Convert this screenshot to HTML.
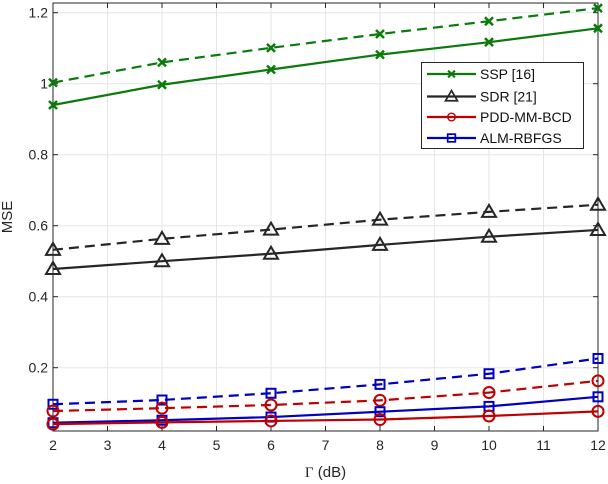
<!DOCTYPE html>
<html><head><meta charset="utf-8"><style>
html,body{margin:0;padding:0;background:#fff;}
svg{display:block;font-family:"Liberation Sans",Arial,sans-serif;}
</style></head><body>
<svg id="chart" width="608" height="484" viewBox="0 0 608 484" xmlns="http://www.w3.org/2000/svg"></svg>
<script>
const xValues=[2,4,6,8,10,12];
const xTicks=[2,3,4,5,6,7,8,9,10,11,12];
const yTicks=[0.2,0.4,0.6,0.8,1,1.2];
const yTickLabels=["0.2","0.4","0.6","0.8","1","1.2"];
const sspSolid=[0.94,0.997,1.04,1.082,1.117,1.156];
const sspDashed=[1.003,1.06,1.101,1.14,1.176,1.213];
const sdrSolid=[0.478,0.50,0.521,0.546,0.569,0.588];
const sdrDashed=[0.532,0.563,0.589,0.617,0.639,0.659];
const pddSolid=[0.041,0.046,0.050,0.054,0.064,0.077];
const pddDashed=[0.078,0.086,0.095,0.108,0.130,0.163];
const almSolid=[0.045,0.052,0.061,0.076,0.091,0.118];
const almDashed=[0.097,0.109,0.128,0.153,0.183,0.226];

const L=53,R=598,T=3,B=431;
const X=v=>L+(v-2)/10*(R-L);
const Y=v=>367.7-(v-0.2)*355;
const svg=document.getElementById('chart');
const NS='http://www.w3.org/2000/svg';
function mk(tag,attrs,parent){const e=document.createElementNS(NS,tag);for(const k in attrs)e.setAttribute(k,attrs[k]);(parent||svg).appendChild(e);return e;}

mk('rect',{x:L,y:T,width:R-L,height:B-T,fill:'#fff'});
const grid=mk('g',{});


xTicks.forEach(t=>{mk('line',{x1:X(t),x2:X(t),y1:T,y2:B,stroke:'#e6e6e6','stroke-width':1},grid);});
yTicks.forEach(t=>{mk('line',{x1:L,x2:R,y1:Y(t),y2:Y(t),stroke:'#e6e6e6','stroke-width':1},grid);});

const box=mk('rect',{x:L,y:T,width:R-L,height:B-T,fill:'none',stroke:'#262626','stroke-width':1});


const xt=mk('g',{});


xTicks.forEach(t=>{
  mk('line',{x1:X(t),x2:X(t),y1:B,y2:B-5,stroke:'#262626'},xt);
  mk('line',{x1:X(t),x2:X(t),y1:T,y2:T+5,stroke:'#262626'},xt);
  const tx=mk('text',{x:X(t),y:B+19,'text-anchor':'middle','font-size':14,fill:'#262626'},xt);tx.textContent=t;
});
const yt=mk('g',{});


yTicks.forEach((t,i)=>{
  mk('line',{x1:L,x2:L+5,y1:Y(t),y2:Y(t),stroke:'#262626'},yt);
  mk('line',{x1:R,x2:R-5,y1:Y(t),y2:Y(t),stroke:'#262626'},yt);
  const tx=mk('text',{x:L-5,y:Y(t)+5,'text-anchor':'end','font-size':14,fill:'#262626'},yt);tx.textContent=yTickLabels[i];
});
const xl=mk('text',{x:(L+R)/2,y:477,'text-anchor':'middle','font-size':15,fill:'#262626'});


xl.innerHTML='<tspan font-family="Liberation Serif,serif">Γ</tspan> (dB)';
const yl=mk('text',{x:0,y:0,'text-anchor':'middle','font-size':15,fill:'#262626',transform:`translate(12,${(T+B)/2}) rotate(-90)`});


yl.textContent='MSE';

function marker(g,type,x,y,c){
  if(type==='x'){mk('path',{d:`M${x-4},${y-4}L${x+4},${y+4}M${x-4},${y+4}L${x+4},${y-4}`,stroke:c,'stroke-width':2.5,fill:'none'},g);}
  else if(type==='tri'){mk('path',{d:`M${x},${y-7}L${x+7},${y+5}L${x-7},${y+5}Z`,stroke:c,'stroke-width':2,fill:'none'},g);}
  else if(type==='o'){mk('circle',{cx:x,cy:y,r:5.5,stroke:c,'stroke-width':2,fill:'none'},g);}
  else {mk('rect',{x:x-4.5,y:y-4.5,width:9,height:9,stroke:c,'stroke-width':2,fill:'none'},g);}
}
function series(name,vals,c,type,dash){
  const g=mk('g',{});
  
  
  const pts=vals.map((v,i)=>X(xValues[i])+','+Y(v)).join(' ');
  mk('polyline',{points:pts,fill:'none',stroke:c,'stroke-width':2.2,'stroke-dasharray':dash?'10,6':'none'},g);
  vals.forEach((v,i)=>marker(g,type,X(xValues[i]),Y(v),c));
}
const G='#0b7a0b',K='#262626',Rd='#c00000',Bl='#0000c0';
series('ssp-dashed',sspDashed,G,'x',true);
series('ssp-solid',sspSolid,G,'x',false);
series('sdr-dashed',sdrDashed,K,'tri',true);
series('sdr-solid',sdrSolid,K,'tri',false);
series('alm-dashed',almDashed,Bl,'sq',true);
series('pdd-dashed',pddDashed,Rd,'o',true);
series('alm-solid',almSolid,Bl,'sq',false);
series('pdd-solid',pddSolid,Rd,'o',false);

const lg=mk('g',{});


mk('rect',{x:421.5,y:62.5,width:162,height:86,fill:'#fff',stroke:'#262626','stroke-width':1},lg);
const entries=[['SSP [16]',G,'x'],['SDR [21]',K,'tri'],['PDD-MM-BCD',Rd,'o'],['ALM-RBFGS',Bl,'sq']];
const ey=[74,96.5,117,138];
entries.forEach((e,i)=>{
  const g=mk('g',{},lg);
  
  
  mk('line',{x1:427,x2:476,y1:ey[i],y2:ey[i],stroke:e[1],'stroke-width':2.2},g);
  const s=e[2]==='o'?0.7:0.85;
  const mg=mk('g',{transform:`translate(451.5,${ey[i]}) scale(${s})`},g);
  marker(mg,e[2],0,0,e[1]);
  const t=mk('text',{x:480,y:ey[i]+5,'font-size':14,fill:'#111'},g);t.textContent=e[0];
});
</script>
</body></html>
